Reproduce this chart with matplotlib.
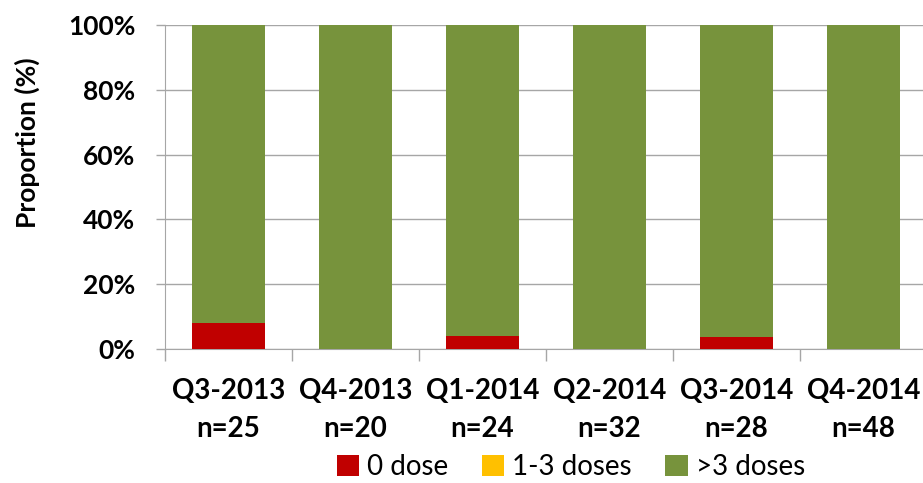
import numpy as np
import matplotlib.pyplot as plt
from matplotlib.ticker import PercentFormatter

quarters = ["Q3-2013", "Q4-2013", "Q1-2014", "Q2-2014", "Q3-2014", "Q4-2014"]
n_vals = [25, 20, 24, 32, 28, 48]
zero_dose = [2, 0, 1, 0, 1, 0]
one_three = [0, 0, 0, 0, 0, 0]

n = np.array(n_vals, dtype=float)
p0 = np.array(zero_dose) / n * 100
p13 = np.array(one_three) / n * 100
p3 = 100 - p0 - p13

plt.rcParams['font.family'] = ['Lato', 'DejaVu Sans']

fig = plt.figure(figsize=(9.23, 4.83), dpi=100)
ax = fig.add_axes([165/923, 1-349/483, 762/923, 324/483])

x = np.arange(len(quarters))
w = 0.58
ax.bar(x, p0, w, color='#C00000', label='0 dose', zorder=3)
ax.bar(x, p13, w, bottom=p0, color='#FFC000', label='1-3 doses', zorder=3)
ax.bar(x, p3, w, bottom=p0+p13, color='#77933C', label='>3 doses', zorder=3)

ax.set_xlim(-0.5, len(quarters)-0.5)
ax.set_ylim(0, 100)
ax.set_yticks(range(0, 101, 20))
ax.yaxis.set_major_formatter(PercentFormatter(decimals=0))
ax.grid(axis='y', color='#A6A6A6', linewidth=1, zorder=0)

ax.set_xticks(np.arange(len(quarters)+1)-0.5)
ax.set_xticklabels([])
ax.set_xticks(x, minor=True)
ax.set_xticklabels([f"{q}\nn={k}" for q, k in zip(quarters, n_vals)], minor=True,
                   fontsize=20, fontweight='bold', linespacing=1.55)
ax.tick_params(axis='x', which='minor', length=0, pad=21)
ax.tick_params(axis='x', which='major', length=8.6, color='#A6A6A6', width=1)
ax.tick_params(axis='y', length=6.5, color='#A6A6A6', width=1, labelsize=19, pad=15)
for lab in ax.get_yticklabels():
    lab.set_fontweight('bold')

for s in ['top', 'right']:
    ax.spines[s].set_visible(False)
for s in ['left', 'bottom']:
    ax.spines[s].set_color('#A6A6A6')
ax.spines['left'].set_zorder(4)

ax.set_ylabel('Proportion (%)', fontsize=19, fontweight='bold')
ax.yaxis.set_label_coords(-(165-40)/762, (349-143)/324)

ax.legend(loc='center', bbox_to_anchor=((571-165)/762, -(467-349)/324), ncol=3, frameon=False,
          fontsize=20, handlelength=0.8, handleheight=0.8, handletextpad=0.3,
          columnspacing=1.2, borderaxespad=0, borderpad=0)

fig.savefig('out.png', dpi=100)
